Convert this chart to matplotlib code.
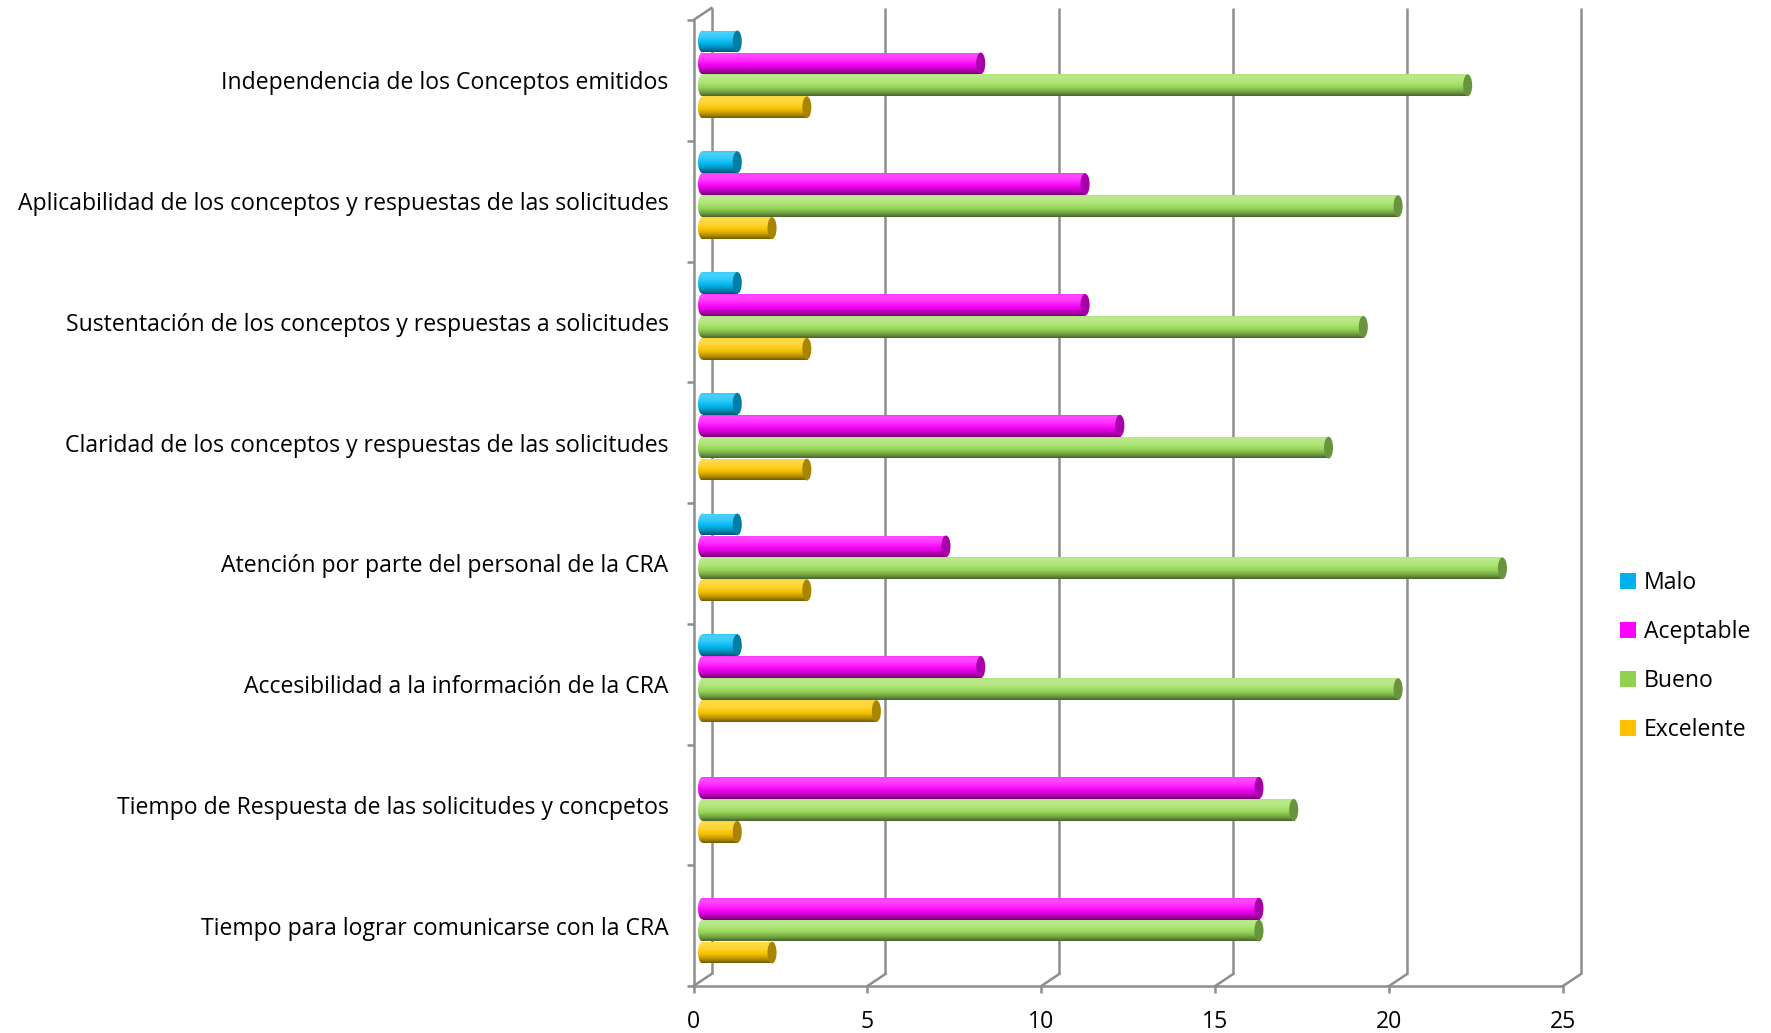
import numpy as np
import matplotlib
matplotlib.use("Agg")
import matplotlib.pyplot as plt
import matplotlib.transforms as mtransforms
from matplotlib.patches import Ellipse, Rectangle, Patch
from matplotlib.path import Path
from matplotlib.colors import to_rgb

# Survey items, listed from the bottom of the chart to the top
categories = [
    "Tiempo para lograr comunicarse con la CRA",
    "Tiempo de Respuesta de las solicitudes y concpetos",
    "Accesibilidad a la información de la CRA",
    "Atención por parte del personal de la CRA",
    "Claridad de los conceptos y respuestas de las solicitudes",
    "Sustentación de los conceptos y respuestas a solicitudes",
    "Aplicabilidad de los conceptos y respuestas de las solicitudes",
    "Independencia de los Conceptos emitidos",
]
series = ["Malo", "Aceptable", "Bueno", "Excelente"]
malo = [0, 0, 1, 1, 1, 1, 1, 1]
aceptable = [16, 16, 8, 7, 12, 11, 11, 8]
bueno = [16, 17, 20, 23, 18, 19, 20, 22]
excelente = [2, 1, 5, 3, 3, 3, 2, 3]
x_ticks = [0, 5, 10, 15, 20, 25]

values = [malo, aceptable, bueno, excelente]
bar_colors = ["#00BDF8", "#FF00FF", "#9EE05C", "#FFCA00"]
legend_colors = ["#00B0F0", "#FF00FF", "#92D050", "#FFC000"]
grid_color = "#8E8E8E"
line_w = 1.8

FONT = ["Open Sans", "DejaVu Sans"]
plt.rcParams["font.family"] = FONT
FS = 16.6

W, H = 1771, 1033
fig = plt.figure(figsize=(W / 100, H / 100), dpi=100)
front_left, front_right = 693.5, 1563.0
front_top, front_bottom = 20.0, 986.0
ax = fig.add_axes([front_left / W, (H - front_bottom) / H,
                   (front_right - front_left) / W, (front_bottom - front_top) / H])
n = len(categories)
ax.set_xlim(0, x_ticks[-1])
ax.set_ylim(0, n)

# Depth offsets of the back wall and of the bar row (pixels)
back_dx, back_dy = 18, 12
bar_dx, bar_dy = 9, 6
back_tr = mtransforms.offset_copy(ax.transData, fig=fig, x=back_dx, y=back_dy, units="dots")
bar_tr = mtransforms.offset_copy(ax.transData, fig=fig, x=bar_dx, y=bar_dy, units="dots")


def to_back(x, y):
    p = back_tr.transform((x, y))
    return ax.transData.inverted().transform(p)


# Back wall gridlines with their floor diagonals
for xv in x_ticks:
    ax.plot([xv, xv], [0, n], transform=back_tr, color=grid_color, lw=line_w,
            clip_on=False, zorder=1, solid_capstyle="butt")
    bx, by = to_back(xv, 0)
    ax.plot([xv, bx], [0, by], color=grid_color, lw=line_w, clip_on=False, zorder=1)
# Top edge of the left wall
bx, by = to_back(0, n)
ax.plot([0, bx], [n, by], color=grid_color, lw=line_w, clip_on=False, zorder=1)

for side in ["top", "right"]:
    ax.spines[side].set_visible(False)
for side in ["left", "bottom"]:
    ax.spines[side].set_color(grid_color)
    ax.spines[side].set_linewidth(line_w)
    ax.spines[side].set_zorder(1)
ax.patch.set_visible(False)

ax.set_xticks(x_ticks)
ax.set_xticklabels([str(t) for t in x_ticks], fontsize=FS)
ax.tick_params(axis="x", length=5, width=line_w, color=grid_color, pad=12.5)
ax.set_yticks(np.arange(n) + 0.5)
ax.set_yticklabels(categories, fontsize=FS)
ax.set_yticks(np.arange(n + 1), minor=True)
ax.tick_params(axis="y", which="major", length=0, pad=18)
ax.tick_params(axis="y", which="minor", length=5, width=line_w, color=grid_color)


def cylinder_gradient(base, rows=80):
    base = np.array(to_rgb(base))
    white = np.ones(3)
    stops = [
        (0.00, 0.80 * base + 0.20 * white),
        (0.10, 0.70 * base + 0.30 * white),
        (0.35, 0.82 * base + 0.18 * white),
        (0.60, base * 0.95),
        (0.82, base * 0.72),
        (1.00, base * 0.45),
    ]
    t = np.linspace(0, 1, rows)
    pos = [s[0] for s in stops]
    cols = np.array([s[1] for s in stops])
    grad = np.stack([np.interp(t, pos, cols[:, k]) for k in range(3)], axis=1)
    return np.clip(grad, 0, 1)[:, None, :]


slot = 0.182
bar_h = 0.18
cap_w = 0.26

for i in range(n):
    for j, vals in enumerate(values):
        v = vals[i]
        if v <= 0:
            continue
        yc = i + 0.5 + (1.5 - j) * slot
        y0 = yc - bar_h / 2
        grad = cylinder_gradient(bar_colors[j])
        body = Rectangle((0, y0), v, bar_h, transform=bar_tr)
        im = ax.imshow(grad, extent=[-cap_w / 2, v, y0, y0 + bar_h], origin="upper",
                       aspect="auto", transform=bar_tr, zorder=3 + j * 0.1,
                       interpolation="bilinear")
        im.set_clip_path(body)
        left_end = Path.unit_circle().transformed(
            mtransforms.Affine2D().scale(cap_w / 2, bar_h / 2).translate(0, yc))
        im2 = ax.imshow(grad, extent=[-cap_w / 2, v, y0, y0 + bar_h], origin="upper",
                        aspect="auto", transform=bar_tr, zorder=3 + j * 0.1,
                        interpolation="bilinear")
        im2.set_clip_path(left_end, bar_tr)
        cap_col = np.array(to_rgb(bar_colors[j])) * 0.66
        ax.add_patch(Ellipse((v, yc), cap_w, bar_h, transform=bar_tr,
                             facecolor=cap_col, edgecolor="none",
                             zorder=3.05 + j * 0.1, clip_on=False))

ax.set_xlim(0, x_ticks[-1])
ax.set_ylim(0, n)

handles = [Patch(facecolor=c, edgecolor="none", label=s)
           for s, c in zip(series, legend_colors)]
fig.legend(handles=handles, loc="upper left", bbox_to_anchor=(1620 / W, 1 - 571 / H),
           frameon=False, fontsize=FS, handlelength=0.7, handleheight=0.7,
           handletextpad=0.35, labelspacing=1.08, borderpad=0, borderaxespad=0)

fig.savefig("out.png", dpi=100, facecolor="white")
